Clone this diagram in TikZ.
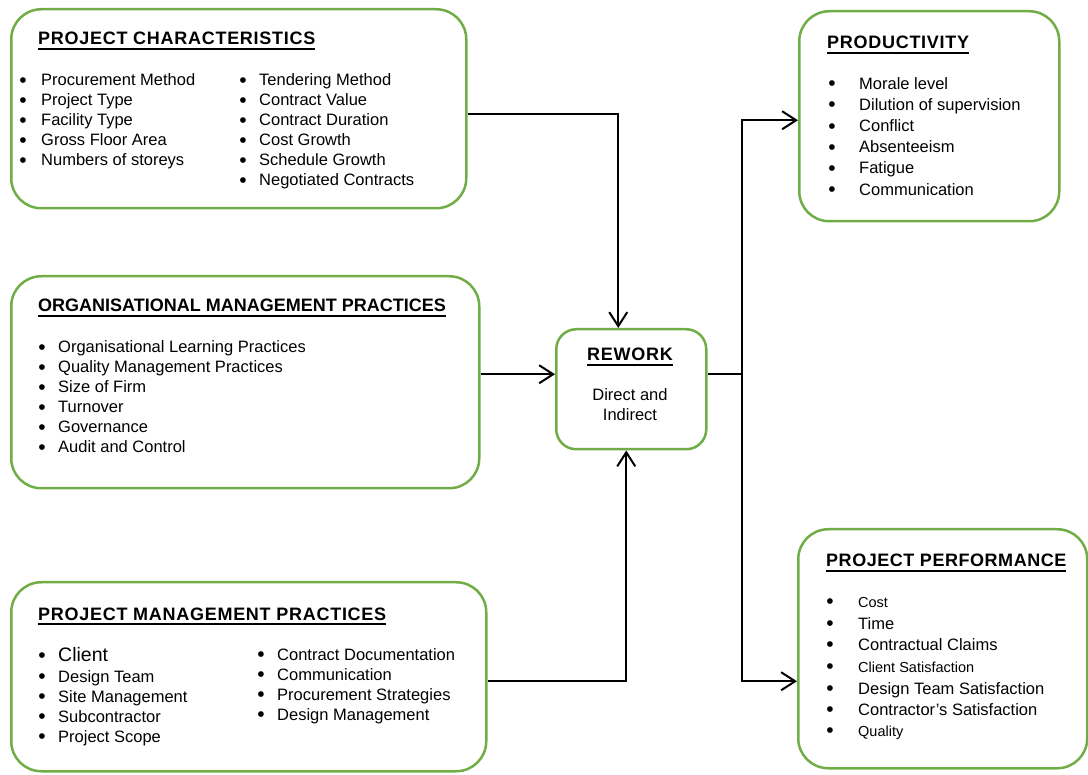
\documentclass[tikz,border=0pt]{standalone}
\usepackage{fontspec}
\setmainfont{Liberation Sans}
\usetikzlibrary{arrows.meta,positioning,calc}
\definecolor{boxgreen}{RGB}{112,173,71}
\newcommand\ulin[1]{\setbox0\hbox{#1}\rlap{\vrule height -3.2pt depth 4.8pt width \wd0}\box0}

\tikzset{
  grbox/.style={draw=boxgreen,line width=2.5pt,rounded corners=30pt,anchor=north west,inner sep=0pt},
  ttl/.style={anchor=base west,inner sep=0pt,font=\bfseries\fontsize{18}{20}\selectfont\addfontfeatures{LetterSpace=4}},
  itm/.style={anchor=base west,inner sep=0pt,font=\fontsize{16.5}{20}\selectfont},
  bul/.style={anchor=base,inner sep=0pt,yshift=-1.5pt,font=\fontsize{21}{20}\selectfont},
  conn/.style={line width=2pt,-{Straight Barb[length=14pt,width=18pt]}}
}

\begin{document}
\begin{tikzpicture}[x=1pt,y=-1pt]
    \useasboundingbox (0,0) rectangle (1088,775);
    % Boxes
    \node[grbox,minimum width=455pt,minimum height=199pt] (pc) at (10,8) {};
    \node[grbox,minimum width=468pt,minimum height=212pt] (om) at (10,275) {};
    \node[grbox,minimum width=475pt,minimum height=189pt] (pm) at (10,581) {};
    \node[grbox,rounded corners=20pt,minimum width=150pt,minimum height=120pt] (rw) at (555,328) {};
    \node[grbox,minimum width=260pt,minimum height=210pt] (pr) at (798,10) {};
    \node[grbox,minimum width=289pt,minimum height=239pt] (pp) at (797,528) {};
    % Project characteristics
    \node[ttl] (pc-t) at (38,45) {\ulin{PROJECT CHARACTERISTICS}};
    \foreach \txt [count=\i] in {Procurement Method,Project Type,Facility Type,Gross Floor Area,Numbers of storeys} {
      \node[bul] (pc-b\i) at (23,66+20*\i) {\textbullet};
      \node[itm] (pc-a\i) at (41,66+20*\i) {\txt};
    }
    \foreach \txt [count=\i] in {Tendering Method,Contract Value,Contract Duration,Cost Growth,Schedule Growth,Negotiated Contracts} {
      \node[bul] (pc-c\i) at (243,66+20*\i) {\textbullet};
      \node[itm] (pc-d\i) at (259,66+20*\i) {\txt};
    }
    % Organisational management practices
    \node[ttl,font=\bfseries\fontsize{18}{20}\selectfont] (om-t) at (38,312) {\ulin{ORGANISATIONAL MANAGEMENT PRACTICES}};
    \foreach \txt [count=\i] in {Organisational Learning Practices,Quality Management Practices,Size of Firm,Turnover,Governance,Audit and Control} {
      \node[bul] (om-b\i) at (42,333+20*\i) {\textbullet};
      \node[itm] (om-a\i) at (58,333+20*\i) {\txt};
    }
    % Project management practices
    \node[ttl] (pm-t) at (38,620) {\ulin{PROJECT MANAGEMENT PRACTICES}};
    \foreach \txt/\yy [count=\i] in {{\fontsize{19.5}{20}\selectfont Client}/661,Design Team/682,Site Management/702,Subcontractor/722,Project Scope/742} {
      \node[bul] (pm-b\i) at (42,\yy) {\textbullet};
      \node[itm] (pm-a\i) at (58,\yy) {\txt};
    }
    \foreach \txt [count=\i] in {Contract Documentation,Communication,Procurement Strategies,Design Management} {
      \node[bul] (pm-c\i) at (261,640+20*\i) {\textbullet};
      \node[itm] (pm-d\i) at (277,640+20*\i) {\txt};
    }
    % Rework
    \node[ttl,anchor=base] (rw-t) at (630,361) {\ulin{REWORK}};
    \node[itm,anchor=base,align=center] (rw-a) at (630,421) {Direct and\\Indirect};
    % Productivity
    \node[ttl] (pr-t) at (827,49) {\ulin{PRODUCTIVITY}};
    \foreach \txt [count=\i] in {Morale level,Dilution of supervision,Conflict,Absenteeism,Fatigue,Communication} {
      \node[bul] (pr-b\i) at (832,68+21.2*\i) {\textbullet};
      \node[itm] (pr-a\i) at (859,68+21.2*\i) {\txt};
    }
    % Project performance
    \node[ttl,font=\bfseries\fontsize{18}{20}\selectfont\addfontfeatures{LetterSpace=3}] (pp-t) at (826,567) {\ulin{PROJECT PERFORMANCE}};
    \foreach \txt/\yy [count=\i] in {{\fontsize{14.5}{20}\selectfont Cost}/607,Time/629,Contractual Claims/650,{\fontsize{14.5}{20}\selectfont Client Satisfaction}/672,Design Team Satisfaction/694,Contractor's Satisfaction/715,{\fontsize{14.5}{20}\selectfont Quality}/736} {
      \node[bul] (pp-b\i) at (830,\yy) {\textbullet};
      \node[itm] (pp-a\i) at (858,\yy) {\txt};
    }
    % Connectors
    \draw[conn] ([yshift=-5.5pt]pc.east) -| ([xshift=-13pt]rw.north);
    \draw[conn] ([yshift=8pt]om.east) -- ([yshift=15pt]rw.west);
    \draw[conn] ([yshift=-4pt]pm.east) -| ([xshift=-5pt]rw.south);
    \coordinate (split) at ($([yshift=15pt]rw.east)+(34,0)$);
    \draw[line width=2pt] ([yshift=15pt]rw.east) -- (split);
    \draw[conn] (split) |- ([yshift=-4pt]pr.west);
    \draw[conn] (split) |- ([yshift=-32.5pt]pp.west);
\end{tikzpicture}
\end{document}
